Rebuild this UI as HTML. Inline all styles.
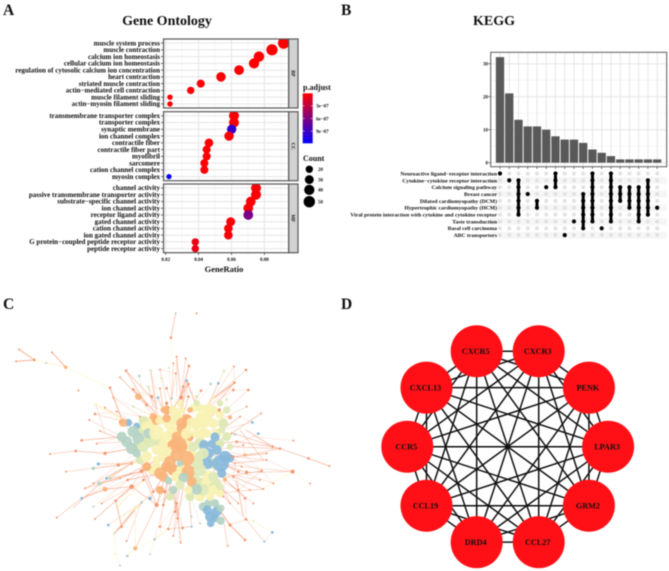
<!DOCTYPE html>
<html lang="en">
<head>
<meta charset="utf-8">
<title>Gene Ontology, KEGG and network figure</title>
<style>
html,body{margin:0;padding:0;background:#fff;}
svg{display:block;filter:blur(.4px);}
text{font-family:"Liberation Serif",serif;font-weight:bold;fill:#111;}
</style>
</head>
<body>
<svg id="fig" xmlns="http://www.w3.org/2000/svg" width="669" height="571" viewBox="0 0 669 571">
<rect width="669" height="571" fill="#fff"/>
<text x="3" y="15" font-size="15.5">A</text>
<text x="341" y="15" font-size="15.5">B</text>
<text x="3" y="309" font-size="15.5">C</text>
<text x="341" y="309" font-size="15.5">D</text>
<text x="167" y="25" font-size="14" text-anchor="middle">Gene Ontology</text>
<text x="494" y="25" font-size="14" text-anchor="middle">KEGG</text>
<text x="224" y="272" font-size="8.5" text-anchor="middle">GeneRatio</text>
<text x="303" y="90" font-size="8">p.adjust</text>
<text x="303" y="161" font-size="8">Count</text>
<defs>
<linearGradient id="padjGrad" x1="0" y1="0" x2="0" y2="1"><stop offset="0" stop-color="#ff0000"/><stop offset="1" stop-color="#0000ff"/></linearGradient>
</defs>
<rect x="302.7" y="93.3" width="10" height="50" fill="url(#padjGrad)"/>
<g id="net"></g>
<g id="go"></g>
<g id="up"></g>
<g id="ppi"></g>
</svg>
<script>
// ---------- Panel A data ----------
const goFacets = ['BP', 'CC', 'MF'];
const bpTerms = ['muscle system process','muscle contraction','calcium ion homeostasis','cellular calcium ion homeostasis','regulation of cytosolic calcium ion concentration','heart contraction','striated muscle contraction','actin\u2212mediated cell contraction','muscle filament sliding','actin\u2212myosin filament sliding'];
const bpRatio = [0.0917,0.0846,0.0767,0.0737,0.0646,0.0536,0.0413,0.0352,0.0226,0.0226];
const bpCount = [50,48,42,40,36,34,24,20,10,10];
const bpPadj = [0.1e-7,0.1e-7,0.1e-7,0.1e-7,0.1e-7,0.2e-7,0.2e-7,0.2e-7,0.2e-7,0.2e-7];
const ccTerms = ['transmembrane transporter complex','transporter complex','synaptic membrane','ion channel complex','contractile fiber','contractile fiber part','myofibril','sarcomere','cation channel complex','myosin complex'];
const ccRatio = [0.0615,0.0615,0.0601,0.0585,0.0463,0.0449,0.0449,0.0435,0.0435,0.022];
const ccCount = [38,38,33,33,28,24,24,24,24,9];
const ccPadj = [0.2e-7,0.2e-7,9.6e-7,0.2e-7,0.1e-7,0.1e-7,0.1e-7,0.1e-7,0.2e-7,11.5e-7];
const mfTerms = ['channel activity','passive transmembrane transporter activity','substrate\u2212specific channel activity','ion channel activity','receptor ligand activity','gated channel activity','cation channel activity','ion gated channel activity','G protein\u2212coupled peptide receptor activity','peptide receptor activity'];
const mfRatio = [0.0749,0.0749,0.0717,0.0702,0.0702,0.0595,0.0581,0.0581,0.038,0.038];
const mfCount = [38,38,36,36,36,30,28,28,20,20];
const mfPadj = [0.2e-7,0.2e-7,0.2e-7,0.2e-7,6.2e-7,0.3e-7,0.3e-7,0.3e-7,0.9e-7,0.9e-7];
const ratioTicks = [0.02,0.04,0.06,0.08];
const ratioTickLabels = ['0.02','0.04','0.06','0.08'];
const ratioMinor = [0.03,0.05,0.07,0.09];
const padjTicks = [3e-7,6e-7,9e-7];
const padjLabels = ['3e\u221207','6e\u221207','9e\u221207'];
const countLegend = [20,30,40,50];

// ---------- Panel B data ----------
const keggSets = ['Neuroactive ligand\u2212receptor interaction','Cytokine\u2212cytokine receptor interaction','Calcium signaling pathway','Breast cancer','Dilated cardiomyopathy (DCM)','Hypertrophic cardiomyopathy (HCM)','Viral protein interaction with cytokine and cytokine receptor','Taste transduction','Basal cell carcinoma','ABC transporters'];
const intersectionSizes = [32,21,13,11,11,10,8,7,7,6,4,3,2,1,1,1,1,1];
const intersectionFirst = [0,1,1,3,4,2,0,9,7,3,0,8,0,2,2,2,1,5];
const intersectionLast = [0,1,6,3,5,2,2,9,7,8,7,8,7,4,5,7,6,5];
const barTicks = [0,10,20,30];
const barMinorTicks = [5,15,25];

// ---------- Panel C data (layout units) ----------
const netFill = [
[450,400,14,'Y'],[430,392,11,'G'],[520,430,15,'Y'],[600,460,13,'G'],[500,470,13,'Y'],[470,452,13,'G'],[422,420,12,'G'],[440,410,12,'Y'],[560,390,13,'L'],[530,380,13,'Y'],[590,400,13,'Y'],[650,430,11,'Y'],[680,440,10,'G'],[620,380,12,'Y'],[640,360,10,'Y'],[670,400,11,'G'],[520,540,13,'L'],[530,560,12,'Y'],[500,530,12,'L'],[600,580,13,'G'],[580,590,12,'G'],[620,580,12,'Y'],[650,580,10,'G'],[660,610,9,'Y'],[600,620,11,'Y'],[570,620,10,'G'],[490,500,12,'Y'],[455,540,10,'Y'],[440,530,10,'L'],[420,510,10,'G'],[510,620,9,'G'],[480,600,9,'L'],[470,390,11,'L'],[500,360,10,'L'],[600,355,9,'Y'],[565,440,12,'L'],[520,465,13,'L'],[575,500,13,'Y'],[600,500,12,'G'],[640,520,12,'G'],[660,460,10,'G'],[610,430,11,'Y'],[640,590,10,'G'],[545,540,12,'Y'],[470,530,10,'Y'],[410,470,11,'G'],[440,450,11,'G'],[660,340,7,'G'],[540,340,7,'Y'],[590,340,7,'G']
];
const netHubs = [
[645,441,11,'B'],[662,520,20,'B'],[622,520,14,'B'],[675,500,14,'B'],[665,550,11,'B'],[690,505,10,'B'],[650,480,12,'B'],[612,465,12,'B'],[625,490,13,'B'],[635,462,10,'B'],
[365,440,12,'S'],[385,398,9,'B'],[410,408,8,'B'],[400,425,14,'S'],[380,455,13,'S'],[415,445,14,'S'],[395,475,14,'S'],[430,470,13,'G'],[410,490,10,'S'],[445,430,12,'S'],[369,398,10,'L'],
[610,650,11,'S'],[625,640,10,'S'],[645,640,10,'S'],[630,680,12,'B'],[650,665,12,'B'],[662,655,9,'S'],[645,685,9,'B'],[632,700,9,'B'],[662,692,10,'S'],[622,660,11,'B'],
[510,400,16,'Y'],[470,428,18,'Y'],[560,470,16,'Y'],[513,487,14,'Y'],[625,560,15,'Y'],[575,400,14,'Y'],[610,400,14,'Y'],[640,400,12,'Y'],[480,390,12,'Y'],[590,430,12,'Y'],[545,440,14,'Y'],[520,360,11,'Y'],[620,355,10,'Y'],[660,375,10,'Y'],[680,360,9,'G'],[580,355,10,'Y'],[545,360,9,'Y'],[600,380,11,'Y'],[500,440,13,'Y'],[440,500,13,'Y'],[470,480,12,'Y'],[580,560,14,'G'],[590,520,16,'G'],[550,520,12,'Y'],[610,600,14,'G'],[640,600,12,'Y'],[660,590,9,'G'],[630,620,10,'Y'],[520,600,10,'S'],[490,560,12,'L'],
[545,400,13,'L'],[500,385,10,'L'],[535,465,20,'L'],[510,515,14,'L'],[560,505,18,'L'],[530,495,15,'L'],[565,545,16,'L'],[545,470,14,'L'],[575,575,12,'L'],[480,550,14,'L'],[415,320,8,'L'],[490,360,7,'L'],[570,360,7,'L'],[460,380,9,'L'],[545,415,12,'L'],[530,440,12,'L'],
[590,598,13,'S'],[550,563,12,'S'],[540,520,8,'S'],[505,572,9,'S'],[610,490,13,'G'],[580,470,12,'G'],[600,540,15,'G'],[640,560,12,'G'],[690,470,8,'G'],[620,430,11,'Y'],[665,420,9,'G'],[450,460,11,'G'],[490,460,11,'Y'],[470,510,10,'Y'],[540,585,11,'G'],[565,600,10,'Y'],[560,430,13,'Y']
];
const netLeaves = [
[378,242,4,'O'],[452,242,4,'G'],[418,258,4,'S'],[360,262,3,'O'],[480,239,3,'O'],[507,233,3,'G'],[530,200,3,'O'],[557,205,3,'O'],[520,220,3,'O'],[567,228,4,'O'],[485,265,4,'G'],[527,250,3,'O'],[560,272,4,'B'],[702,229,3,'O'],[738,240,4,'O'],[672,243,4,'G'],[703,278,4,'O'],[632,282,4,'S'],[655,280,4,'B'],[745,300,4,'O'],[740,350,3,'O'],[783,370,3,'O'],[757,397,4,'B'],[775,431,4,'B'],[818,470,4,'O'],[878,545,6,'O'],[227,483,4,'O'],[245,451,4,'O'],[290,461,3,'O'],[280,535,5,'S'],[295,522,5,'B'],[315,490,5,'O'],[280,580,3,'O'],[298,581,6,'S'],[255,595,3,'O'],[315,598,7,'L'],[320,565,4,'B'],[245,625,4,'B'],[280,650,3,'S'],[285,687,3,'O'],[305,640,3,'O'],[347,632,4,'O'],[350,655,3,'Y'],[405,656,5,'Y'],[325,705,4,'B'],[343,730,4,'G'],[365,710,4,'O'],[380,753,3,'O'],[406,775,6,'L'],[464,748,4,'S'],[520,738,3,'O'],[542,758,3,'O'],[505,717,4,'O'],[548,714,4,'O'],[575,710,3,'B'],[470,645,6,'O'],[450,625,5,'B'],[425,637,4,'S'],[395,590,7,'O'],[425,543,6,'O'],[395,520,5,'L'],[355,525,5,'O'],[360,565,3,'O'],[330,565,4,'S'],[383,570,4,'O'],[430,570,4,'O'],[460,605,4,'O'],[495,605,5,'O'],[490,645,4,'O'],[530,640,4,'O'],[525,665,4,'O'],[575,680,3,'S'],[533,685,4,'O'],[480,710,4,'O'],[600,700,3,'S'],[690,705,5,'O'],[738,688,4,'O'],[760,640,3,'O'],[735,625,4,'O'],[715,600,4,'O'],[750,600,3,'O'],[790,597,3,'O'],[820,580,3,'O'],[780,570,3,'O'],[740,547,5,'O'],[785,543,4,'O'],[800,510,3,'O'],[800,490,3,'O'],[735,495,5,'L'],[730,465,3,'O'],[710,455,4,'O'],[705,433,4,'S'],[690,382,6,'L'],[720,380,3,'O'],[340,322,3,'O'],[315,353,3,'O'],[287,343,4,'Y'],[285,372,4,'O'],[268,390,3,'O'],[300,423,3,'O'],[350,365,3,'O'],[360,395,3,'O'],[400,350,4,'G'],[400,298,4,'O'],[455,320,5,'O'],[474,323,4,'B'],[445,290,4,'G'],[500,295,4,'O'],[480,295,3,'O'],[515,325,4,'S'],[543,322,6,'O'],[565,320,4,'O'],[590,320,5,'G'],[603,302,4,'O'],[640,325,4,'Y'],[680,328,4,'G'],[700,300,4,'O'],[658,360,5,'O'],[550,290,4,'O'],[565,282,4,'O'],[500,340,5,'O'],[440,345,4,'O'],[420,380,3,'O'],[695,430,3,'O'],[670,620,3,'O'],[690,640,3,'O'],[715,640,3,'O'],[700,560,4,'O'],[675,568,6,'L'],[715,545,4,'O'],[725,530,3,'O'],[700,500,4,'O'],[705,520,3,'O']
];
const netOuter = [
[590,70,3,'O'],[527,70,3,'S'],[57,178,3,'O'],[156,187,3,'O'],[103,210,4,'O'],[48,214,3,'O'],[139,219,3,'S'],[513,143,4,'O'],[197,232,5,'L'],[235,301,3,'O'],[330,293,4,'O'],[840,476,4,'O'],[925,505,4,'O'],[988,528,3,'O'],[880,452,3,'O'],[930,581,3,'O'],[150,492,3,'O'],[198,545,3,'O'],[170,683,3,'O'],[222,652,3,'G'],[346,792,3,'Y'],[382,798,4,'S'],[360,827,3,'S'],[450,792,3,'S'],[683,768,3,'O'],[735,750,4,'O'],[760,693,3,'G'],[817,727,4,'B'],[793,755,3,'B']
];
const netChains = [
[48,214,103,210,1.2,'O'],[57,178,103,210,1.2,'O'],[139,219,103,210,.6,'Y'],[156,187,197,232,1.2,'O'],[139,219,197,232,.6,'Y'],[197,232,330,293,.5,'Y'],
[527,70,513,143,.8,'O'],[513,143,513,200,.4,'Y'],[330,293,369,398,1.2,'O'],[287,343,369,398,.5,'Y'],[287,343,315,430,.5,'O'],
[690,470,840,476,.7,'O'],[840,476,925,505,.7,'O'],[925,505,988,528,.9,'O'],[700,430,840,476,.7,'O'],[878,545,780,600,.6,'Y'],[878,545,740,547,.6,'O'],[880,452,760,440,.3,'O'],[878,545,930,581,.4,'Y'],[760,693,738,688,.5,'Y'],
[150,492,227,483,.7,'O'],[227,483,315,490,.7,'O'],[315,490,400,475,.9,'O'],[198,545,280,535,.5,'O'],[280,535,395,520,.9,'O'],[170,683,245,625,.6,'O'],[245,625,315,598,1,'O'],[315,598,395,590,1,'O'],[222,652,298,581,.6,'O'],[255,595,395,520,.6,'O'],[298,581,425,543,1,'O'],
[405,656,343,730,1,'O'],[405,656,325,705,.5,'Y'],[347,632,365,710,1,'O'],[365,710,343,730,.8,'O'],[347,632,395,590,.8,'O'],[406,775,405,656,.7,'Y'],[406,775,464,748,.5,'Y'],[346,792,343,730,.5,'Y'],[382,798,406,775,.7,'Y'],[360,827,346,792,.5,'Y'],[464,748,505,717,.6,'Y'],[505,717,575,710,.7,'O'],[450,792,464,748,.4,'Y'],
[542,758,530,640,.7,'O'],[520,738,533,685,.5,'O'],[683,768,670,690,.6,'O'],[735,750,690,705,1.3,'O'],[690,705,662,665,1.3,'O'],[738,688,690,705,.5,'O'],[738,688,793,755,.6,'O'],[760,693,817,727,.5,'Y'],[793,755,817,727,.4,'O'],
[640,325,703,278,1.4,'O'],[703,278,660,330,.7,'O'],[560,272,590,350,1.1,'O'],[565,282,510,370,.9,'O'],[567,228,540,330,.9,'O'],[530,200,530,320,.5,'O'],[452,242,470,360,.9,'O'],[378,242,470,340,.8,'O'],[400,298,470,370,.9,'O'],[445,290,460,350,.7,'O'],
[710,570,730,680,.9,'O'],[735,495,840,476,.6,'O'],[720,420,790,510,.7,'O'],[738,420,818,470,.8,'O'],[715,600,785,543,.5,'O'],[650,610,790,597,.6,'O'],[700,500,800,490,.8,'O'],[700,520,800,510,.7,'O'],[680,560,785,543,.8,'O'],[690,640,640,540,.7,'O'],
[360,565,470,510,.8,'O'],[330,565,430,543,.8,'O'],[383,570,480,550,.9,'O'],[395,590,470,645,.8,'O'],[470,645,495,560,.9,'O'],[460,605,420,510,.9,'O'],[425,543,470,645,.9,'O'],[490,645,520,560,.8,'O'],[525,665,530,590,.7,'O'],[533,685,550,590,.8,'O']
];
const netPalette = {O:'#f29a72', L:'#f9b47c', Y:'#f8f2b4', G:'#dfe9b8', S:'#b4d3c4', B:'#88b8da'};
const netEdgePalette = {O:'#f6b49a', L:'#f8c6a4', Y:'#fbf0a6', G:'#f8e0bc', S:'#f8d8bc', B:'#f6c4aa'};
const netCenter = [530,480];

// ---------- Panel D data ----------
const ppiGenes = ['LPAR3','GRM2','CCL27','DRD4','CCL19','CCR5','CXCL13','CXCR5','CXCR3','PENK'];

const NS = 'http://www.w3.org/2000/svg';
function mk(tag, attrs, parent) {
  const el = document.createElementNS(NS, tag);
  for (const k in attrs) el.setAttribute(k, attrs[k]);
  parent.appendChild(el);
  return el;
}

// ---------- Panel A drawing ----------
const go = document.getElementById('go');
const xRatio = v => 165.7 + (v - 0.02) * 1645;
const rCount = c => Math.sqrt(1.16 + 0.627 * c);
const padjColor = p => {
  const t = Math.min(1, p / 1.19e-6);
  return `rgb(${Math.round(255 * (1 - t))},0,${Math.round(255 * t)})`;
};
const facetBoxes = [[39,108],[111.7,180.7],[184,252.7]];
const facetTerms = [bpTerms, ccTerms, mfTerms];
const facetRatio = [bpRatio, ccRatio, mfRatio];
const facetCount = [bpCount, ccCount, mfCount];
const facetPadj = [bpPadj, ccPadj, mfPadj];
const PL = 163.5, PR = 288.7, SR = 298;
goFacets.forEach((facet, f) => {
  const top = facetBoxes[f][0], bot = facetBoxes[f][1];
  const step = (bot - top) / 10.2;
  const yRow = i => top + (0.6 + i) * step;
  const clip = mk('clipPath', {id: 'clip' + f}, go);
  mk('rect', {x: PL, y: top, width: PR - PL, height: bot - top}, clip);
  ratioMinor.forEach(v => {
    const el = mk('line', {x1: xRatio(v), x2: xRatio(v), y1: top, y2: bot, stroke: '#f1f1f1', 'stroke-width': .6}, go);
    
    
  });
  ratioTicks.forEach(v => {
    const el = mk('line', {x1: xRatio(v), x2: xRatio(v), y1: top, y2: bot, stroke: '#e6e6e6', 'stroke-width': 1}, go);
    
    
  });
  facetTerms[f].forEach((term, i) => {
    const g = mk('line', {x1: PL, x2: PR, y1: yRow(i), y2: yRow(i), stroke: '#e6e6e6', 'stroke-width': 1}, go);
    
    
    const tk = mk('line', {x1: 161, x2: PL, y1: yRow(i), y2: yRow(i), stroke: '#333', 'stroke-width': .7}, go);
    
    
    const t = mk('text', {x: 160, y: yRow(i) + 2.2, 'font-size': 7, 'text-anchor': 'end'}, go);
    
    
    t.textContent = term;
  });
  const marks = mk('g', {'clip-path': `url(#clip${f})`}, go);
  
  
  facetTerms[f].forEach((term, i) => {
    const c = mk('circle', {cx: xRatio(facetRatio[f][i]), cy: yRow(i), r: rCount(facetCount[f][i]), fill: padjColor(facetPadj[f][i])}, marks);
    
    
  });
  const border = mk('rect', {x: PL, y: top, width: PR - PL, height: bot - top, fill: 'none', stroke: '#585858', 'stroke-width': 1.2}, go);
  
  
  const strip = mk('rect', {x: PR, y: top, width: SR - PR, height: bot - top, fill: '#d2d2d2', stroke: '#585858', 'stroke-width': 1.2}, go);
  
  
  const cy = (top + bot) / 2;
  const st = mk('text', {x: 293.4, y: cy, 'font-size': 5, 'text-anchor': 'middle', transform: `rotate(90 293.4 ${cy})`, dy: '1.7'}, go);
  
  
  st.textContent = facet;
});
ratioTicks.forEach((v, i) => {
  const tk = mk('line', {x1: xRatio(v), x2: xRatio(v), y1: 252.7, y2: 255, stroke: '#333', 'stroke-width': .7}, go);
  
  
  const t = mk('text', {x: xRatio(v), y: 261, 'font-size': 5, 'text-anchor': 'middle'}, go);
  
  
  t.textContent = ratioTickLabels[i];
});
const yPadj = p => 93.3 + p * 4.2e7;
padjTicks.forEach((p, i) => {
  const tk = mk('line', {x1: 302.7, x2: 312.7, y1: yPadj(p), y2: yPadj(p), stroke: '#fff', 'stroke-width': .5, 'stroke-dasharray': '2 6'}, go);
  
  
  const t = mk('text', {x: 316, y: yPadj(p) + 1.8, 'font-size': 5}, go);
  
  
  t.textContent = padjLabels[i];
});
const countLegendY = c => 169.3 + (c - 20) * 1.03 + (c > 40 ? 1.5 : 0);
countLegend.forEach(c => {
  const dot = mk('circle', {cx: 309.3, cy: countLegendY(c), r: rCount(c), fill: '#000'}, go);
  
  
  const t = mk('text', {x: 318, y: countLegendY(c) + 1.8, 'font-size': 5}, go);
  
  
  t.textContent = String(c);
});

// ---------- Panel B drawing ----------
const up = document.getElementById('up');
const BL = 490.7, BR = 666.7, BT = 52.3, BB = 166.7;
const xCol = i => 500 + i * 9.245;
const yBar = v => 162.7 - v * 3.3;
const yRowM = i => 173.5 + i * 6.85;
barMinorTicks.forEach(v => {
  const el = mk('line', {x1: BL, x2: BR, y1: yBar(v), y2: yBar(v), stroke: '#f0f0f0', 'stroke-width': .6}, up);
  
  
});
barTicks.forEach(v => {
  const el = mk('line', {x1: BL, x2: BR, y1: yBar(v), y2: yBar(v), stroke: '#e6e6e6', 'stroke-width': 1}, up);
  
  
  const tk = mk('line', {x1: BL - 2.2, x2: BL, y1: yBar(v), y2: yBar(v), stroke: '#333', 'stroke-width': .7}, up);
  
  
  const t = mk('text', {x: 488, y: yBar(v) + 1.7, 'font-size': 5, 'text-anchor': 'end'}, up);
  
  
  t.textContent = String(v);
});
intersectionSizes.forEach((v, i) => {
  const gl = mk('line', {x1: xCol(i), x2: xCol(i), y1: BT, y2: BB, stroke: '#e6e6e6', 'stroke-width': 1}, up);
  
  
  const tk = mk('line', {x1: xCol(i), x2: xCol(i), y1: BB, y2: BB + 2.2, stroke: '#333', 'stroke-width': .7}, up);
  
  
});
intersectionSizes.forEach((v, i) => {
  const bar = mk('rect', {x: xCol(i) - 4.15, y: yBar(v), width: 8.3, height: yBar(0) - yBar(v), fill: '#595959'}, up);
  
  
});
const bBorder = mk('rect', {x: BL, y: BT, width: BR - BL, height: BB - BT, fill: 'none', stroke: '#6a6a6a', 'stroke-width': 1.1}, up);


keggSets.forEach((name, r) => {
  if (r % 2 === 1) {
    const band = mk('rect', {x: 491, y: yRowM(r) - 3.4, width: 176, height: 6.85, fill: '#f6f6f6'}, up);
    
    
  }
  const t = mk('text', {x: 497, y: yRowM(r) + 1.9, 'font-size': 5.65, 'text-anchor': 'end'}, up);
  
  
  t.textContent = name;
});
intersectionSizes.forEach((v, c) => {
  keggSets.forEach((name, r) => {
    const on = r >= intersectionFirst[c] && r <= intersectionLast[c];
    const d = mk('circle', {cx: xCol(c), cy: yRowM(r), r: on ? 2.1 : 2, fill: on ? '#000' : '#e2e2e2'}, up);
    
    
  });
  if (intersectionLast[c] > intersectionFirst[c]) {
    const l = mk('line', {x1: xCol(c), x2: xCol(c), y1: yRowM(intersectionFirst[c]), y2: yRowM(intersectionLast[c]), stroke: '#000', 'stroke-width': 3, 'stroke-linecap': 'round'}, up);
    
    
  }
});

// ---------- Panel C drawing ----------
const net = document.getElementById('net');
const nx = v => v / 3;
const ny = v => v / 3 + 290;
const netAll = netHubs.concat(netLeaves);
const distToCenter = n => Math.hypot(n[0] - netCenter[0], n[1] - netCenter[1]);
// neighbour toward the core: the closest node to a target point that sits nearer the centre than the leaf
const inwardNeighbour = (n, x, y) => {
  let best = netHubs[0], bd = Infinity;
  netAll.forEach(h => {
    if (h === n || distToCenter(h) >= distToCenter(n)) return;
    const d = Math.hypot(h[0] - x, h[1] - y);
    if (d < bd) { bd = d; best = h; }
  });
  return best;
};
const edgeLayer = mk('g', {fill: 'none'}, net);


netLeaves.forEach((n, i) => {
  const a = inwardNeighbour(n, n[0] * .62 + netCenter[0] * .38, n[1] * .62 + netCenter[1] * .38);
  const e1 = mk('line', {x1: nx(n[0]), y1: ny(n[1]), x2: nx(a[0]), y2: ny(a[1]), stroke: netEdgePalette[n[3]], 'stroke-width': i % 3 === 0 ? .8 : .5, 'stroke-opacity': .85}, edgeLayer);
  
  
  if (i % 3 === 1) {
    const b = inwardNeighbour(n, n[0] * .8 + netCenter[0] * .2 + 25, n[1] * .8 + netCenter[1] * .2 - 20);
    const e2 = mk('line', {x1: nx(n[0]), y1: ny(n[1]), x2: nx(b[0]), y2: ny(b[1]), stroke: netEdgePalette[n[3]], 'stroke-width': .4, 'stroke-opacity': .7}, edgeLayer);
    
    
  }
});
netChains.forEach(c => {
  const e = mk('line', {x1: nx(c[0]), y1: ny(c[1]), x2: nx(c[2]), y2: ny(c[3]), stroke: netEdgePalette[c[5]], 'stroke-width': c[4] * .85}, edgeLayer);
  
  
});
const fillLayer = mk('g', {}, net);


netFill.forEach(n => {
  const c = mk('circle', {cx: nx(n[0]), cy: ny(n[1]), r: n[2] / 3 * 1.35, fill: netPalette[n[3]]}, fillLayer);
  
  
});
const hubLayer = mk('g', {}, net);


netHubs.forEach(n => {
  const c = mk('circle', {cx: nx(n[0]), cy: ny(n[1]), r: n[2] / 3 * 1.25, fill: netPalette[n[3]], 'fill-opacity': .92}, hubLayer);
  
  
});
const leafLayer = mk('g', {}, net);


netLeaves.concat(netOuter).forEach(n => {
  const c = mk('circle', {cx: nx(n[0]), cy: ny(n[1]), r: n[2] / 3, fill: netPalette[n[3]]}, leafLayer);
  
  
});

// ---------- Panel D drawing ----------
const ppi = document.getElementById('ppi');
const ppiCx = 507.7, ppiCy = 446.7, ppiR = 100.4;
const ppiX = i => ppiCx + ppiR * Math.cos(i * 2 * Math.PI / ppiGenes.length);
const ppiY = i => ppiCy + ppiR * Math.sin(i * 2 * Math.PI / ppiGenes.length);
ppiGenes.forEach((a, i) => {
  ppiGenes.forEach((b, j) => {
    if (j <= i) return;
    const e = mk('line', {x1: ppiX(i), y1: ppiY(i), x2: ppiX(j), y2: ppiY(j), stroke: '#111', 'stroke-width': 1.5}, ppi);
    
    
  });
});
ppiGenes.forEach((gene, i) => {
  const c = mk('circle', {cx: ppiX(i), cy: ppiY(i), r: 26, fill: '#ff1016'}, ppi);
  
  
  const t = mk('text', {x: ppiX(i) - 1, y: ppiY(i) + 2.8, 'font-size': 8.2, 'text-anchor': 'middle'}, ppi);
  
  
  t.textContent = gene;
});
</script>
</body>
</html>
